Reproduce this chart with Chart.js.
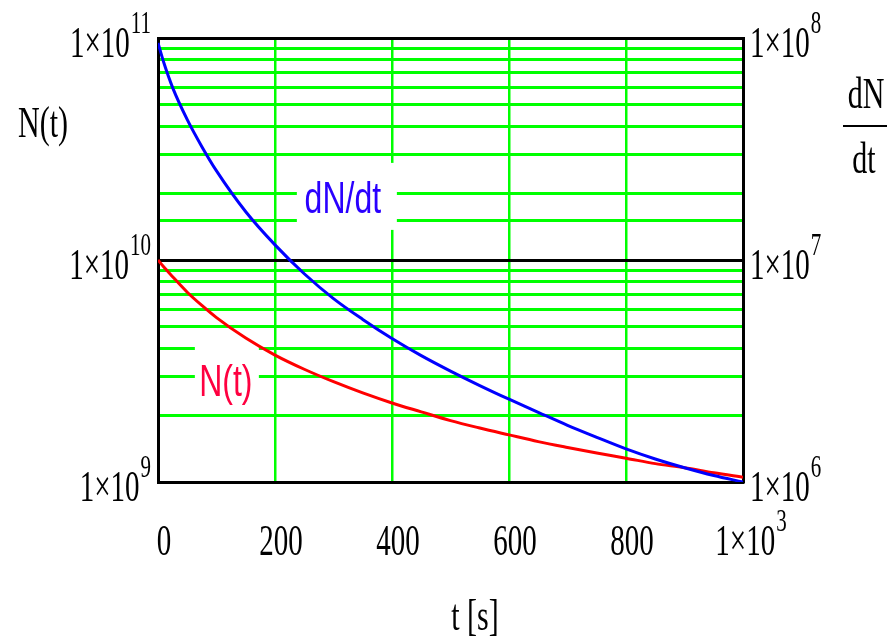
<!DOCTYPE html>
<html>
<head>
<meta charset="utf-8">
<title>N(t) and dN/dt</title>
<script src="https://cdn.jsdelivr.net/npm/chart.js@4.4.1/dist/chart.umd.min.js"></script>
<style>
  html, body { margin: 0; padding: 0; background: #fff; }
  #wrap { width: 894px; height: 638px; }
</style>
</head>
<body>
<div id="wrap"><canvas id="decay-chart" width="894" height="638"></canvas></div>
<script>
// time in seconds
const tValues = [0, 10, 25, 50, 75, 100, 150, 200, 250, 300, 350, 400, 450, 500,
                 550, 600, 650, 700, 750, 800, 850, 900, 950, 1000];
// N(t), left axis
const nValues = [1.0e10, 9.29e9, 8.41e9, 7.16e9, 6.24e9, 5.5e9, 4.45e9, 3.73e9, 3.22e9, 2.83e9,
                 2.52e9, 2.27e9, 2.07e9, 1.89e9, 1.75e9, 1.63e9, 1.52e9, 1.43e9, 1.35e9,
                 1.28e9, 1.21e9, 1.16e9, 1.1e9, 1.05e9];
// dN/dt, right axis
const dndtValues = [9.5e7, 7.73e7, 5.98e7, 4.29e7, 3.24e7, 2.52e7, 1.65e7, 1.17e7, 8.67e6, 6.7e6,
                    5.4e6, 4.43e6, 3.71e6, 3.16e6, 2.72e6, 2.36e6, 2.06e6, 1.8e6, 1.59e6,
                    1.41e6, 1.27e6, 1.16e6, 1.07e6, 1.0e6];

const xTicks = [0, 200, 400, 600, 800, 1000];
const leftExps = [9, 10, 11];
const rightExps = [6, 7, 8];

const SERIF = "'Liberation Serif', 'Times New Roman', serif";
const SANS = "'Liberation Sans', Arial, sans-serif";

function stretchText(ctx, str, x, y, font, color, align, sy) {
    ctx.save();
    ctx.font = font;
    ctx.fillStyle = color;
    ctx.textAlign = align;
    ctx.textBaseline = "alphabetic";
    ctx.translate(x, y);
    ctx.scale(1, sy || 1.5);
    ctx.fillText(str, 0, 0);
    ctx.restore();
}

// draws "1×10" with a raised exponent
function powerLabel(ctx, exp, x, baseY, align) {
    const mainFont = "29px " + SERIF;
    const supFont = "21px " + SERIF;
    ctx.save();
    ctx.font = mainFont;
    const mw = ctx.measureText("1×10").width;
    ctx.font = supFont;
    const sw = ctx.measureText(String(exp)).width;
    ctx.restore();
    const total = mw + sw + 1;
    let start = x;
    if (align === "right") start = x - total;
    if (align === "center") start = x - total / 2;
    stretchText(ctx, "1×10", start, baseY, mainFont, "#000", "left");
    stretchText(ctx, String(exp), start + mw + 1, baseY - 24, supFont, "#000", "left");
}

const labelPlugin = {
    id: "mathcadLabels",
    beforeDatasetsDraw(chart) {
        const ctx = chart.ctx;
        const sx = chart.scales.x, sy = chart.scales.y, sy2 = chart.scales.y2;
        ctx.save();
        ctx.fillStyle = "#fff";
        // gaps in the grid behind the curve labels
        const dx = sx.getPixelForValue(316), dy = sy2.getPixelForValue(1.63e7);
        ctx.fillRect(dx - 46, dy - 50, 100, 67);
        const nx = sx.getPixelForValue(116), ny = sy.getPixelForValue(2.44e9);
        ctx.fillRect(nx - 31, ny - 54, 64, 66);
        ctx.restore();
    },
    afterDraw(chart) {
        const ctx = chart.ctx;
        const sx = chart.scales.x, sy = chart.scales.y, sy2 = chart.scales.y2;
        const area = chart.chartArea;

        leftExps.forEach(e => {
            powerLabel(ctx, e, area.left - 7, sy.getPixelForValue(Math.pow(10, e)) + 19, "right");
        });
        rightExps.forEach(e => {
            powerLabel(ctx, e, area.right + 7, sy2.getPixelForValue(Math.pow(10, e)) + 19, "left");
        });
        xTicks.forEach(v => {
            const px = sx.getPixelForValue(v);
            if (v === 1000) {
                powerLabel(ctx, 3, px + 8, area.bottom + 73, "center");
            } else {
                stretchText(ctx, String(v), px + 6, area.bottom + 73, "29px " + SERIF, "#000", "center");
            }
        });

        // axis titles
        stretchText(ctx, "N(t)", 18, 137, "30px " + SERIF, "#000", "left");
        stretchText(ctx, "dN", 866, 108, "30px " + SERIF, "#000", "center");
        ctx.save();
        ctx.fillStyle = "#000";
        ctx.fillRect(843, 125, 44, 2);
        ctx.restore();
        stretchText(ctx, "dt", 864, 173, "30px " + SERIF, "#000", "center");
        stretchText(ctx, "t [s]", 475, 630, "30px " + SERIF, "#000", "center");

        // curve labels
        stretchText(ctx, "dN/dt", sx.getPixelForValue(316), sy2.getPixelForValue(1.63e7),
            "32px " + SANS, "#2a00ff", "center", 1.38);
        stretchText(ctx, "N(t)", sx.getPixelForValue(116), sy.getPixelForValue(2.44e9),
            "32px " + SANS, "#ff0040", "center", 1.38);
    }
};

const green = "#00ff00";

new Chart(document.getElementById("decay-chart"), {
    type: "line",
    data: {
        datasets: [
            {
                label: "dN/dt",
                data: tValues.map((t, i) => ({ x: t, y: dndtValues[i] })),
                yAxisID: "y2",
                borderColor: "#0000ff",
                borderWidth: 3,
                pointRadius: 0,
                cubicInterpolationMode: "monotone"
            },
            {
                label: "N(t)",
                data: tValues.map((t, i) => ({ x: t, y: nValues[i] })),
                yAxisID: "y",
                borderColor: "#ff0000",
                borderWidth: 3,
                pointRadius: 0,
                cubicInterpolationMode: "monotone"
            }
        ]
    },
    options: {
        responsive: false,
        animation: false,
        layout: { padding: { left: 158, right: 151, top: 38, bottom: 156 } },
        plugins: {
            legend: { display: false },
            tooltip: { enabled: false }
        },
        scales: {
            x: {
                type: "linear",
                position: "bottom",
                min: 0,
                max: 1000,
                ticks: { stepSize: 200, display: false },
                grid: {
                    drawTicks: false,
                    lineWidth: 2.5,
                    color: c => (c.tick && (c.tick.value === 0 || c.tick.value === 1000)) ? "rgba(0,0,0,0)" : green
                },
                border: { display: true, color: "#000", width: 3 }
            },
            xTop: {
                type: "linear",
                position: "top",
                min: 0,
                max: 1000,
                ticks: { display: false },
                grid: { display: false, drawTicks: false },
                border: { display: true, color: "#000", width: 3 }
            },
            y: {
                type: "logarithmic",
                position: "left",
                min: 1e9,
                max: 1e11,
                ticks: { display: false },
                grid: {
                    drawTicks: false,
                    lineWidth: 3,
                    color: c => {
                        if (!c.tick) return green;
                        const l = Math.log10(c.tick.value);
                        return Math.abs(l - Math.round(l)) < 1e-6 ? "#000" : green;
                    }
                },
                border: { display: true, color: "#000", width: 3 }
            },
            y2: {
                type: "logarithmic",
                position: "right",
                min: 1e6,
                max: 1e8,
                ticks: { display: false },
                grid: { display: false, drawTicks: false },
                border: { display: true, color: "#000", width: 3 }
            }
        }
    },
    plugins: [labelPlugin]
});
</script>
</body>
</html>
